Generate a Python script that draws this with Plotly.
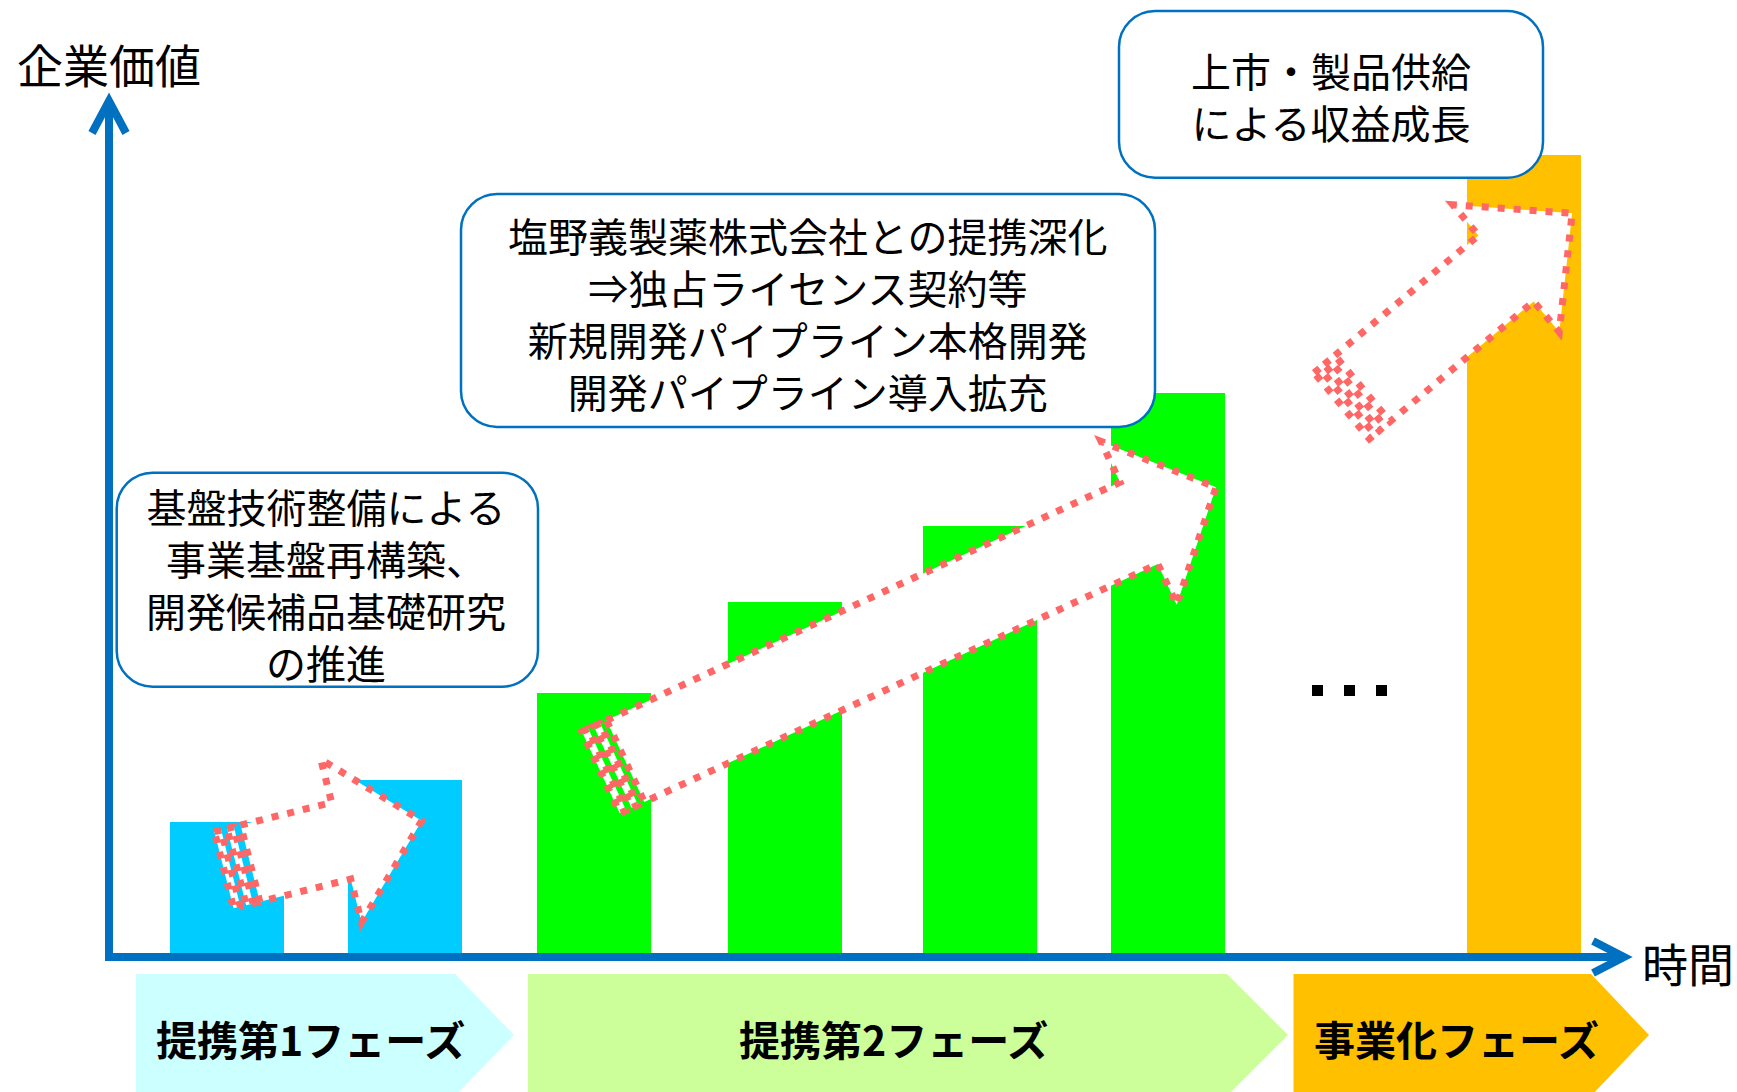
import math
import plotly.graph_objects as go

# ---------------- data ----------------
bar_labels = ["第1-a", "第1-b", "第2-a", "第2-b", "第2-c", "第2-d", "事業化"]
bar_time = [227, 405, 594, 785, 980, 1168, 1524]      # position on the time axis
bar_value = [131, 173, 260, 351, 427, 560, 798]       # enterprise value (relative)
bar_phase = [0, 0, 1, 1, 1, 1, 2]

phase_names = ["提携第1フェーズ", "提携第2フェーズ", "事業化フェーズ"]
phase_colors = ["#CCFFFF", "#CCFF99", "#FFC000"]
bar_colors_by_phase = ["#00CCFF", "#00FF00", "#FFC000"]

callout1 = ["基盤技術整備による", "事業基盤再構築、", "開発候補品基礎研究", "の推進"]
callout2 = ["塩野義製薬株式会社との提携深化", "⇒独占ライセンス契約等",
            "新規開発パイプライン本格開発", "開発パイプライン導入拡充"]
callout3 = ["上市・製品供給", "による収益成長"]
y_title = "企業価値"
x_title = "時間"

# ---------------- canvas ----------------
W, H = 1737, 1092
BASE = 953           # pixel row of the value baseline
FONT = "Noto Sans CJK JP"
BLUE = "#0070C0"
SALMON = "#FF6666"


def path(points, close=True):
    s = "M " + " L ".join(f"{x:.1f},{BASE - y:.1f}" for x, y in points)
    return s + (" Z" if close else "")


def rrect(x0, y0, x1, y1, r):
    k = 0.5523 * r
    def P(x, y):
        return f"{x:.1f},{BASE - y:.1f}"
    return (f"M {P(x0 + r, y0)} L {P(x1 - r, y0)} "
            f"C {P(x1 - r + k, y0)} {P(x1, y0 + r - k)} {P(x1, y0 + r)} "
            f"L {P(x1, y1 - r)} "
            f"C {P(x1, y1 - r + k)} {P(x1 - r + k, y1)} {P(x1 - r, y1)} "
            f"L {P(x0 + r, y1)} "
            f"C {P(x0 + r - k, y1)} {P(x0, y1 - r + k)} {P(x0, y1 - r)} "
            f"L {P(x0, y0 + r)} "
            f"C {P(x0, y0 + r - k)} {P(x0 + r - k, y0)} {P(x0 + r, y0)} Z")


def block_arrow(tail, tip, sw, hw, hl, stripes=((0, 7), (13, 20)), body_start=27):
    dx, dy = tip[0] - tail[0], tip[1] - tail[1]
    L = math.hypot(dx, dy)
    ux, uy = dx / L, dy / L
    nx, ny = -uy, ux

    def pt(s, t):
        return (tail[0] + ux * s + nx * t, tail[1] + uy * s + ny * t)

    body = [pt(body_start, -sw / 2), pt(L - hl, -sw / 2), pt(L - hl, -hw / 2),
            pt(L, 0), pt(L - hl, hw / 2), pt(L - hl, sw / 2), pt(body_start, sw / 2)]
    strips = [[pt(a, -sw / 2), pt(b, -sw / 2), pt(b, sw / 2), pt(a, sw / 2)]
              for a, b in stripes]
    return body, strips


fig = go.Figure()

fig.add_trace(go.Bar(
    x=bar_time, y=bar_value, width=114,
    marker=dict(color=[bar_colors_by_phase[p] for p in bar_phase], line=dict(width=0)),
    hoverinfo="skip", showlegend=False,
))

# ellipsis
fig.add_trace(go.Scatter(
    x=[1317.5, 1349.5, 1381.5], y=[BASE - 690.5] * 3, mode="markers",
    marker=dict(symbol="square", size=11, color="black"),
    hoverinfo="skip", showlegend=False,
))

shapes = []

# phase chevrons
phase_geom = [(136, 455, 514), (528, 1227, 1288), (1293.5, 1591, 1649)]
top, mid, bot = 974, 1035, 1096
for (x0, xb, xt), col in zip(phase_geom, phase_colors):
    shapes.append(dict(type="path", path=path([(x0, top), (xb, top), (xt, mid), (xb, bot), (x0, bot)]),
                       fillcolor=col, line=dict(width=0), layer="above"))

# axes with arrowheads
shapes.append(dict(type="line", x0=109, y0=BASE - 961, x1=109, y1=BASE - 102,
                   line=dict(color=BLUE, width=8)))
shapes.append(dict(type="path", path=path([(92, 133), (109, 101), (126, 133)], close=False),
                   line=dict(color=BLUE, width=8)))
shapes.append(dict(type="line", x0=105, y0=BASE - 957, x1=1622, y1=BASE - 957,
                   line=dict(color=BLUE, width=8)))
shapes.append(dict(type="path", path=path([(1593, 941), (1624, 957), (1593, 973)], close=False),
                   line=dict(color=BLUE, width=8)))

# dotted block arrows
arrows = [
    ((224, 870), (421.7, 820.7), 79, 168, 83),
    ((600.9, 772.5), (1216, 487.3), 90, 180, 85),
    ((1341.8, 405.8), (1572.1, 213.3), 86, 166, 86),
]
dot_line = dict(color=SALMON, width=7, dash="7px,9px")
for tail, tip, sw, hw, hl in arrows:
    body, strips = block_arrow(tail, tip, sw, hw, hl)
    for s in strips:
        shapes.append(dict(type="path", path=path(s), fillcolor="white", line=dot_line))
    shapes.append(dict(type="path", path=path(body), fillcolor="white", line=dot_line))

# callout boxes
boxes = [(116.7, 472.7, 538, 686.7), (461, 194, 1155, 427), (1119, 11, 1543, 177.7)]
for x0, y0, x1, y1 in boxes:
    shapes.append(dict(type="path", path=rrect(x0, y0, x1, y1, 36), fillcolor="white",
                       line=dict(color=BLUE, width=2.5)))

annotations = []


def txt(x, y, s, size, bold=False):
    annotations.append(dict(
        x=x, y=BASE - y, xref="x", yref="y", text=(f"<b>{s}</b>" if bold else s),
        showarrow=False, xanchor="center", yanchor="middle", align="center",
        font=dict(family=FONT, size=size, color="black")))


txt(326, 583.5, "<br>".join(callout1), 40)
txt(808, 312.5, "<br>".join(callout2), 40)
txt(1331, 96, "<br>".join(callout3), 40)

for s, x in zip(phase_names, [310, 893, 1456]):
    txt(x, 1038, s, 41, bold=True)

txt(109, 62.5, y_title, 46)
txt(1688, 962, x_title, 46)

fig.update_layout(
    width=W, height=H, margin=dict(l=0, r=0, t=0, b=0, pad=0),
    paper_bgcolor="white", plot_bgcolor="white",
    xaxis=dict(range=[0, W], visible=False, fixedrange=True),
    yaxis=dict(range=[BASE - H, BASE], visible=False, fixedrange=True),
    shapes=shapes, annotations=annotations, bargap=0, showlegend=False,
)

fig.write_html(
    "out.html",
    config={"displayModeBar": False},
    post_script="document.body.style.margin='0';document.body.style.overflow='hidden';",
)
